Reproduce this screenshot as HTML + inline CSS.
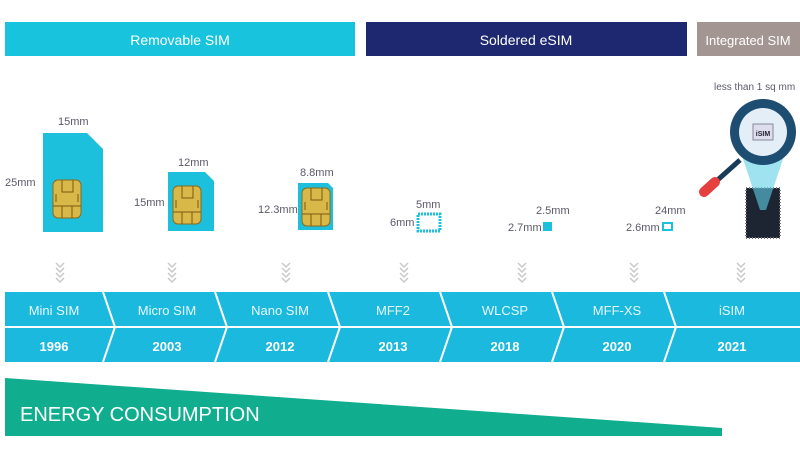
<!DOCTYPE html>
<html><head><meta charset="utf-8"><style>
body{margin:0;background:#fff;width:800px;height:450px;overflow:hidden;font-family:"Liberation Sans",sans-serif}
</style></head><body>
<svg width="800" height="450" viewBox="0 0 800 450" xmlns="http://www.w3.org/2000/svg" font-family="Liberation Sans, sans-serif">
<defs>
<g id="chip">
<rect x="0" y="0" width="28" height="38" rx="5" fill="#d9b84a" stroke="#8a6a1a" stroke-width="1"/>
<path d="M9 0V12H20V0M0 26H28M9 26V38M19 26V38M3 14V22M25 14V22" stroke="#7a5a10" stroke-width="1" fill="none"/>
</g>
<g id="chev" fill="none" stroke="#c8c8c8" stroke-width="1.5">
<path d="M-4 0L0 4L4 0M-4 5L0 9L4 5M-4 10L0 14L4 10M-4 15L0 19L4 15"/>
</g>
</defs>
<rect x="5" y="22" width="350" height="34" fill="#18c3de"/>
<text x="180" y="45" fill="#fff" font-size="14" text-anchor="middle">Removable SIM</text>
<rect x="366" y="22" width="321" height="34" fill="#1e2870"/>
<text x="526" y="45" fill="#fff" font-size="14" text-anchor="middle">Soldered eSIM</text>
<rect x="697" y="22" width="103" height="34" fill="#a39692"/>
<text x="748" y="45" fill="#fff" font-size="13" text-anchor="middle">Integrated SIM</text>

<g fill="#5a5a6a" font-size="11">
<text x="58" y="125">15mm</text>
<text x="5" y="186">25mm</text>
<text x="178" y="166">12mm</text>
<text x="134" y="206">15mm</text>
<text x="300" y="176">8.8mm</text>
<text x="258" y="213">12.3mm</text>
<text x="416" y="208">5mm</text>
<text x="390" y="226">6mm</text>
<text x="536" y="214">2.5mm</text>
<text x="508" y="231">2.7mm</text>
<text x="655" y="214">24mm</text>
<text x="626" y="231">2.6mm</text>
<text x="714" y="90" font-size="10">less than 1 sq mm</text>
</g>
<path d="M43 133H87L103 149V232H43Z" fill="#1cc0dc"/>
<use href="#chip" x="53" y="180"/>
<path d="M168 172H205L214 181V231H168Z" fill="#1cc0dc"/>
<use href="#chip" x="173" y="186"/>
<path d="M298 183H328L333 188V230H298Z" fill="#1cc0dc"/>
<use href="#chip" x="302" y="188"/>
<rect x="418" y="214" width="22" height="17" fill="none" stroke="#1cc0dc" stroke-width="3" stroke-dasharray="2 1"/>
<rect x="543" y="222" width="9" height="9" fill="#1cc0dc"/>
<rect x="663" y="223" width="9" height="7" fill="none" stroke="#1cc0dc" stroke-width="2"/>
<rect x="746" y="188" width="34" height="50" fill="#1d2533"/>
<rect x="746" y="188" width="34" height="50" fill="none" stroke="#777" stroke-width="2" stroke-dasharray="1 2"/>
<path d="M740 150L786 150L766 210L760 210Z" fill="#5fd0e8" opacity="0.6"/>
<line x1="740" y1="160" x2="712" y2="185" stroke="#1a3a5a" stroke-width="5"/>
<line x1="715" y1="182" x2="704" y2="192" stroke="#e5403e" stroke-width="10" stroke-linecap="round"/>
<circle cx="763" cy="132" r="33" fill="#1e4d72"/>
<circle cx="763" cy="132" r="24" fill="#e3eef6"/>
<rect x="753" y="124" width="20" height="16" fill="#dde" stroke="#889"/>
<text x="763" y="136" font-size="7" fill="#223" text-anchor="middle" font-weight="bold">iSIM</text>

<use href="#chev" x="60" y="263"/><use href="#chev" x="172" y="263"/><use href="#chev" x="286" y="263"/><use href="#chev" x="404" y="263"/><use href="#chev" x="522" y="263"/><use href="#chev" x="634" y="263"/><use href="#chev" x="741" y="263"/>

<rect x="5" y="292" width="795" height="70" fill="#1bb9dd"/>
<line x1="5" y1="327" x2="800" y2="327" stroke="#fff" stroke-width="2"/>
<g stroke="#fff" stroke-width="2" fill="none">
<path d="M103 292L115 327L103 362"/>
<path d="M215 292L227 327L215 362"/>
<path d="M328 292L340 327L328 362"/>
<path d="M440 292L452 327L440 362"/>
<path d="M552 292L564 327L552 362"/>
<path d="M664 292L676 327L664 362"/>
</g>
<g fill="#e6f8ff" font-size="13" text-anchor="middle">
<text x="54" y="315">Mini SIM</text><text x="167" y="315">Micro SIM</text><text x="280" y="315">Nano SIM</text><text x="393" y="315">MFF2</text><text x="505" y="315">WLCSP</text><text x="617" y="315">MFF-XS</text><text x="732" y="315">iSIM</text>
</g>
<g fill="#fff" font-size="13" font-weight="bold" text-anchor="middle">
<text x="54" y="351">1996</text><text x="167" y="351">2003</text><text x="280" y="351">2012</text><text x="393" y="351">2013</text><text x="505" y="351">2018</text><text x="617" y="351">2020</text><text x="732" y="351">2021</text>
</g>
<path d="M5 378L722 428V436H5Z" fill="#11ad8f"/>
<text x="20" y="421" fill="#fff" font-size="20">ENERGY CONSUMPTION</text>
</svg>
</body></html>
